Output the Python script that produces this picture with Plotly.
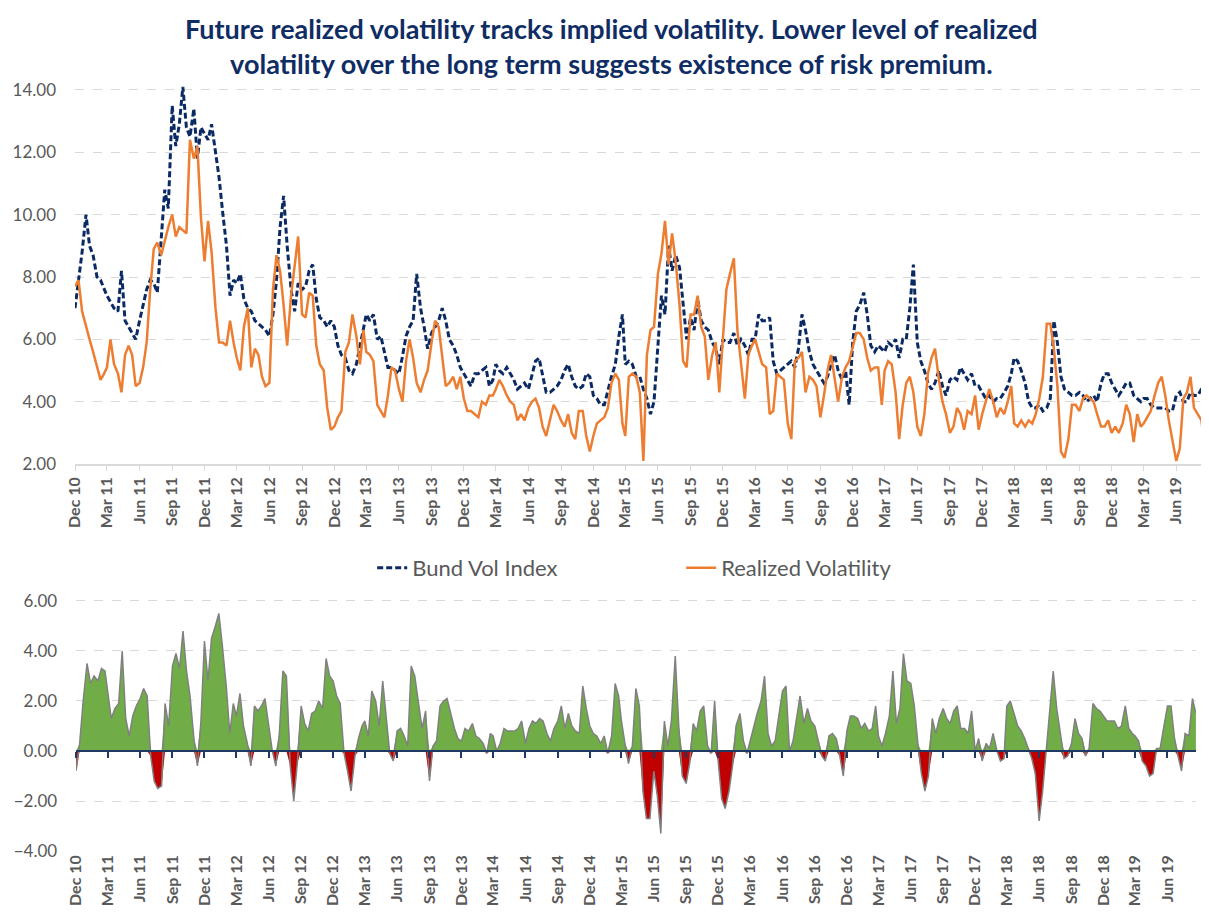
import numpy as np
import pandas as pd
import plotly.graph_objects as go

# ---------------- data (3 readings per month: 1st, 11th, 21st), Dec 2010 .. Aug 2019 ----------------
start_month = pd.Timestamp(2010, 12, 1)
n_months = 105
day_offsets = [0, 10, 20]

bund_vol = [
    7.0, 7.9, 8.8, 10.0, 9.0, 8.7, 8.0, 7.9, 7.6, 7.4, 7.2, 7.0,          # Dec10-Mar11
    6.9, 8.2, 6.6, 6.4, 6.2, 6.0, 6.6, 7.1, 7.6, 7.9, 7.8, 7.5,          # Apr-Jul11
    9.2, 10.8, 10.2, 13.5, 12.2, 12.9, 14.1, 12.8, 12.5, 13.4, 11.8, 12.8,  # Aug-Nov11
    12.6, 12.4, 12.9, 12.0, 11.2, 10.1, 9.0, 7.4, 7.9, 7.8, 8.1, 7.3,    # Dec11-Mar12
    7.0, 6.9, 6.6, 6.5, 6.4, 6.3, 6.1, 6.8, 7.9, 9.6, 10.6, 9.0,         # Apr-Jul12
    7.6, 6.9, 7.8, 7.6, 7.7, 8.2, 8.4, 7.3, 6.7, 6.6, 6.4, 6.6,          # Aug-Nov12
    6.4, 5.8, 5.5, 5.4, 5.0, 4.9, 5.2, 5.8, 6.4, 6.8, 6.6, 6.8,          # Dec12-Mar13
    6.0, 6.1, 5.6, 5.1, 5.1, 5.0, 4.9, 5.45, 6.1, 6.4, 6.6, 8.1,         # Apr-Jul13
    7.0, 6.4, 5.7, 6.2, 6.4, 6.6, 7.0, 6.6, 6.0, 5.8, 5.5, 5.1,          # Aug-Nov13
    4.9, 4.7, 4.5, 4.9, 4.9, 5.0, 5.1, 4.5, 4.7, 5.2, 5.0, 4.9,          # Dec13-Mar14
    5.1, 4.9, 4.7, 4.4, 4.5, 4.6, 4.4, 4.9, 5.3, 5.4, 4.8, 4.3,          # Apr-Jul14
    4.3, 4.4, 4.5, 4.7, 5.0, 5.2, 4.8, 4.5, 4.4, 4.5, 4.9, 4.8,          # Aug-Nov14
    4.2, 4.1, 3.9, 3.9, 4.4, 4.8, 5.2, 6.1, 6.8, 5.2, 5.3, 5.2,          # Dec14-Mar15
    4.8, 4.8, 4.4, 4.1, 3.6, 4.0, 5.8, 7.4, 6.8, 9.0, 8.2, 8.7,          # Apr-Jul15
    8.3, 7.2, 6.0, 6.7, 6.3, 7.3, 6.6, 6.4, 6.3, 5.9, 5.7, 5.2,          # Aug-Nov15
    6.0, 5.9, 5.9, 6.2, 5.8, 6.0, 5.8, 5.5, 6.0, 6.0, 6.8, 6.6,          # Dec15-Mar16
    6.6, 6.7, 5.3, 4.9, 5.0, 5.1, 5.2, 5.3, 5.1, 5.7, 6.8, 6.3,          # Apr-Jul16
    5.6, 5.2, 5.0, 4.8, 4.6, 4.8, 5.2, 5.5, 5.0, 4.7, 5.0, 3.9,          # Aug-Nov16
    5.9, 6.9, 7.1, 7.5, 6.8, 5.8, 5.6, 5.8, 5.7, 5.6, 5.9, 5.8,          # Dec16-Mar17
    6.0, 5.4, 6.0, 6.0, 7.0, 8.4, 5.9, 5.3, 5.0, 4.6, 4.4, 4.6,          # Apr-Jul17
    5.0, 4.5, 4.2, 4.7, 4.8, 4.7, 5.1, 4.9, 4.7, 4.9, 4.5, 4.5,          # Aug-Nov17
    4.3, 4.1, 4.2, 4.0, 4.1, 4.1, 4.3, 4.5, 4.9, 5.4, 5.3, 5.0,          # Dec17-Mar18
    4.6, 4.0, 3.8, 3.8, 3.9, 3.7, 3.8, 4.1, 6.6, 5.9, 4.8, 4.4,          # Apr-Jul18
    4.3, 4.2, 4.2, 4.3, 4.2, 4.0, 4.1, 4.2, 4.0, 4.6, 4.9, 4.9,          # Aug-Nov18
    4.6, 4.4, 4.2, 4.4, 4.6, 4.6, 4.2, 4.1, 4.0, 4.1, 4.1, 3.9,          # Dec18-Mar19
    3.8, 3.8, 3.8, 3.8, 3.7, 3.7, 4.2, 4.3, 4.0, 4.0, 4.3, 4.2,          # Apr-Jul19
    4.2, 4.4, 4.6,                                                        # Aug19
]

realized_vol = [
    7.7, 7.9, 6.9, 6.4, 6.0, 5.6, 5.1, 4.7, 4.9, 5.1, 6.0, 5.2,          # Dec10-Mar11
    4.9, 4.3, 5.5, 5.8, 5.5, 4.5, 4.6, 5.1, 5.9, 7.6, 8.9, 9.1,          # Apr-Jul11
    8.7, 9.2, 9.6, 10.0, 9.3, 9.6, 9.5, 9.4, 12.4, 11.8, 12.2, 9.9,      # Aug-Nov11
    8.5, 9.8, 8.8, 7.0, 5.9, 5.9, 5.8, 6.6, 5.9, 5.4, 5.0, 6.4,          # Dec11-Mar12
    7.0, 5.1, 5.7, 5.5, 4.8, 4.5, 4.6, 7.6, 8.7, 8.2, 7.1, 5.8,          # Apr-Jul12
    7.4, 8.4, 9.3, 6.8, 6.7, 7.5, 7.4, 5.8, 5.2, 5.0, 3.8, 3.1,          # Aug-Nov12
    3.2, 3.5, 3.7, 5.6, 5.9, 6.8, 6.1, 5.2, 6.3, 5.6, 5.5, 5.3,          # Dec12-Mar13
    3.9, 3.7, 3.5, 4.2, 5.1, 5.0, 4.4, 4.0, 5.3, 6.0, 5.4, 4.6,          # Apr-Jul13
    4.3, 4.7, 5.0, 5.9, 6.6, 6.4, 5.4, 4.5, 4.6, 4.8, 4.4, 4.8,          # Aug-Nov13
    4.1, 3.7, 3.7, 3.6, 3.5, 4.0, 3.9, 4.2, 4.2, 4.4, 4.7, 4.5,          # Dec13-Mar14
    4.2, 4.0, 3.9, 3.4, 3.6, 3.4, 3.8, 4.0, 4.1, 3.8, 3.2, 2.9,          # Apr-Jul14
    3.4, 3.9, 3.7, 3.4, 3.2, 3.6, 3.0, 2.8, 3.7, 3.7, 2.9, 2.4,          # Aug-Nov14
    2.9, 3.3, 3.4, 3.5, 3.8, 4.6, 4.9, 4.7, 3.3, 2.9, 4.8, 4.9,          # Dec14-Mar15
    4.8, 4.3, 2.1, 5.5, 6.3, 6.4, 8.1, 8.75, 9.8, 8.4, 9.4, 8.5,         # Apr-Jul15
    7.1, 5.3, 5.1, 6.8, 6.8, 7.4, 6.4, 6.1, 4.7, 5.5, 5.9, 4.3,          # Aug-Nov15
    6.0, 7.6, 8.1, 8.6, 6.3, 5.3, 4.1, 5.5, 5.8, 6.0, 5.6, 5.2,          # Dec15-Mar16
    5.1, 3.6, 3.7, 4.9, 4.8, 4.7, 3.3, 2.8, 5.3, 5.4, 5.6, 4.3,          # Apr-Jul16
    4.8, 4.7, 4.5, 3.5, 4.2, 5.0, 5.5, 4.7, 4.0, 4.8, 5.1, 5.3,          # Aug-Nov16
    5.8, 6.2, 6.2, 6.0, 5.4, 5.0, 5.1, 5.1, 3.9, 5.0, 5.3, 5.2,          # Dec16-Mar17
    4.3, 2.8, 3.9, 4.6, 4.8, 4.3, 3.2, 2.9, 3.6, 4.9, 5.4, 5.7,          # Apr-Jul17
    4.7, 4.0, 3.6, 3.0, 3.2, 3.8, 3.6, 3.1, 3.7, 3.6, 4.2, 3.1,          # Aug-Nov17
    3.6, 4.0, 4.4, 4.0, 3.5, 3.8, 3.6, 4.0, 4.5, 3.3, 3.2, 3.4,          # Dec17-Mar18
    3.2, 3.4, 3.3, 3.6, 4.1, 4.8, 6.5, 6.5, 5.7, 4.5, 2.4, 2.2,          # Apr-Jul18
    2.8, 3.9, 3.9, 3.7, 4.1, 4.2, 4.1, 4.0, 3.6, 3.2, 3.2, 3.4,          # Aug-Nov18
    3.0, 3.2, 3.0, 3.3, 3.9, 3.6, 2.7, 3.6, 3.2, 3.3, 3.5, 3.7,          # Dec18-Mar19
    4.2, 4.6, 4.8, 4.2, 3.4, 2.8, 2.1, 2.5, 4.1, 4.3, 4.8, 3.8,          # Apr-Jul19
    3.6, 3.4, 2.4,                                                        # Aug19
]

vol_spread = [
    -0.8, 0.3, 2.0, 3.5, 2.7, 3.0, 2.8, 3.3, 3.2, 2.4, 1.3, 1.7,         # Dec10-Mar11
    1.9, 4.0, 1.3, 0.6, 1.4, 1.8, 2.1, 2.5, 2.2, -0.2, -1.2, -1.5,       # Apr-Jul11
    -1.4, 1.9, 1.0, 3.4, 3.9, 3.3, 4.8, 3.2, 2.2, 0.5, -0.6, 1.2,        # Aug-Nov11
    4.4, 2.8, 4.5, 5.0, 5.5, 4.2, 2.6, 0.7, 1.9, 1.4, 2.3, 1.0,          # Dec11-Mar12
    0.3, -0.6, 1.8, 1.6, 1.8, 2.1, 1.0, 0.0, -0.6, 0.7, 3.2, 3.0,        # Apr-Jul12
    -0.6, -2.0, -0.5, 1.8, 1.1, 0.8, 1.5, 1.6, 2.0, 1.7, 3.7, 3.0,       # Aug-Nov12
    2.8, 2.2, 1.9, -0.1, -0.8, -1.6, -0.2, 0.5, 1.0, 1.2, 0.6, 2.4,      # Dec12-Mar13
    2.0, 1.0, 2.8, 1.3, -0.1, -0.4, 0.8, 0.9, 0.6, 0.2, 3.4, 3.0,        # Apr-Jul13
    1.9, 0.9, 1.6, -1.2, 0.2, 0.4, 1.8, 2.0, 2.1, 1.5, 0.9, 0.5,         # Aug-Nov13
    0.4, 0.9, 0.8, 1.1, 0.6, 0.5, 0.3, -0.1, 0.7, 0.6, 0.0, 0.3,         # Dec13-Mar14
    0.9, 0.8, 0.8, 0.8, 0.9, 1.2, 0.3, 0.9, 1.2, 1.1, 1.3, 1.2,          # Apr-Jul14
    0.7, 0.4, 0.9, 1.2, 1.8, 0.9, 1.5, 1.0, 0.8, 0.7, 2.6, 1.7,          # Aug-Nov14
    1.0, 0.7, 0.6, 0.3, 0.6, -0.1, 0.6, 2.7, 2.2, 1.2, 0.3, -0.5,        # Dec14-Mar15
    0.2, 2.5, 1.8, -1.6, -2.7, -2.7, -0.8, -1.8, -3.3, 1.2, 0.2, 1.2,    # Apr-Jul15
    3.8, 1.0, -1.0, -1.3, -0.5, 1.1, 0.8, 1.6, 1.8, 0.2, -0.1, 2.0,      # Aug-Nov15
    -0.4, -1.9, -2.3, -1.6, -0.6, 1.0, 1.5, 0.4, -0.1, 0.4, 1.0, 1.5,    # Dec15-Mar16
    2.0, 3.0, 0.7, 0.2, 0.4, 1.3, 2.4, 2.6, 0.0, 0.4, 1.3, 2.2,          # Apr-Jul16
    1.1, 1.7, 1.2, 1.0, 0.4, -0.2, -0.4, 0.6, 0.7, 0.5, -0.2, -1.0,      # Aug-Nov16
    0.8, 1.4, 1.4, 1.3, 0.9, 1.1, 0.8, 0.9, 1.8, 0.6, 0.2, 0.7,          # Dec16-Mar17
    1.4, 3.2, 1.1, 1.7, 3.9, 2.8, 2.7, 1.8, 0.3, -0.9, -1.6, -1.0,       # Apr-Jul17
    1.3, 0.7, 1.3, 1.7, 1.3, 1.1, 1.6, 1.8, 0.9, 0.9, 0.7, 1.6,          # Aug-Nov17
    0.0, 0.5, -0.4, 0.3, 0.1, 0.7, 0.0, -0.4, -0.3, 1.8, 2.0, 1.5,       # Dec17-Mar18
    1.0, 0.8, 0.5, 0.1, -0.3, -0.9, -2.8, -1.6, 0.0, 1.6, 3.2, 1.7,      # Apr-Jul18
    0.6, -0.3, -0.2, 0.3, 1.3, 0.7, 0.5, -0.2, 0.1, 1.9, 1.7, 1.6,       # Aug-Nov18
    1.4, 1.2, 1.2, 1.2, 0.9, 1.0, 1.8, 0.9, 0.7, 0.6, 0.4, -0.4,         # Dec18-Mar19
    -0.6, -1.0, -0.9, 0.1, 0.1, 1.0, 1.8, 1.8, 0.5, -0.2, -0.8, 0.7,     # Apr-Jul19
    0.6, 2.1, 1.5,                                                        # Aug19
]

dates = [start_month + pd.DateOffset(months=m) + pd.Timedelta(days=d)
         for m in range(n_months) for d in day_offsets]

tick_dates = [start_month + pd.DateOffset(months=3 * q) for q in range(35)]
tick_text = [d.strftime("%b %y") for d in tick_dates]

title_text = ("<b>Future realized volatility tracks implied volatility. Lower level of realized<br>"
              "volatility over the long term suggests existence of risk premium.</b>")

# ---------------- figure ----------------
def xs(series):
    return dates[:len(series)]

spread = np.array(vol_spread, dtype=float)
spread_pos = np.clip(spread, 0, None)
spread_neg = np.clip(spread, None, 0)

NAVY = "#0b2a63"
ORANGE = "#ED7D31"
GREEN = "#70AD47"
RED = "#C00000"
GRAY_LINE = "#808080"
GRID = "#d9d9d9"
TXT = "#595959"
FONT = "Lato"

# page has an 8px body margin, so the figure is drawn 8px in from the window edges
W, H = 1201, 913
ML, MR, MT, MB = 67, 4, 77, 70
plot_w, plot_h = W - ML - MR, H - MT - MB

fig = go.Figure()

fig.add_trace(go.Scatter(x=xs(bund_vol), y=bund_vol, name="Bund Vol Index", mode="lines",
                         line=dict(color=NAVY, width=3, dash="6px,3px"),
                         xaxis="x", yaxis="y", legendrank=1))
fig.add_trace(go.Scatter(x=xs(realized_vol), y=realized_vol, name="Realized Volatility", mode="lines",
                         line=dict(color=ORANGE, width=2.5),
                         xaxis="x", yaxis="y", legendrank=2))

fig.add_trace(go.Scatter(x=xs(vol_spread), y=spread_pos, mode="lines", fill="tozeroy",
                         fillcolor=GREEN, line=dict(width=0, color=GREEN),
                         showlegend=False, xaxis="x2", yaxis="y2", hoverinfo="skip"))
fig.add_trace(go.Scatter(x=xs(vol_spread), y=spread_neg, mode="lines", fill="tozeroy",
                         fillcolor=RED, line=dict(width=0, color=RED),
                         showlegend=False, xaxis="x2", yaxis="y2", hoverinfo="skip"))
fig.add_trace(go.Scatter(x=xs(vol_spread), y=vol_spread, mode="lines",
                         line=dict(color=GRAY_LINE, width=1.5),
                         showlegend=False, xaxis="x3", yaxis="y2"))

x_range = ["2010-12-01", "2019-08-21"]

# geometry (paper fractions)
top_dom = [0.5052, 1.0]
bot_dom = [0.0, 0.3303]
bot_range = [-4, 6.12]
zero_pos = bot_dom[0] + (0 - bot_range[0]) / (bot_range[1] - bot_range[0]) * (bot_dom[1] - bot_dom[0])

tickfont_x = dict(family=FONT, size=16, color=TXT, weight="bold")
tickfont_y = dict(family=FONT, size=17, color=TXT)

fig.add_annotation(
    text=title_text, showarrow=False, align="center",
    xref="paper", yref="paper",
    x=(603 - ML) / plot_w, xanchor="center",
    y=1 + (MT - 38) / plot_h, yanchor="middle",
    font=dict(family=FONT, size=27, color="#0f2d64"),
)

fig.update_layout(
    width=W, height=H,
    margin=dict(l=ML, r=MR, t=MT, b=MB),
    paper_bgcolor="white", plot_bgcolor="white",
    showlegend=True,
    legend=dict(orientation="h", x=0.263, xanchor="left", y=0.3695, yanchor="middle",
                font=dict(family=FONT, size=22, color=TXT),
                entrywidth=264, entrywidthmode="pixels",
                bgcolor="rgba(0,0,0,0)"),
    xaxis=dict(domain=[0, 1], anchor="y", type="date", range=x_range,
               tickmode="array", tickvals=tick_dates, ticktext=tick_text, tickangle=-90,
               tickfont=tickfont_x, showgrid=False, zeroline=False,
               showline=True, linecolor=GRID, linewidth=1.5,
               ticks="outside", tickcolor=GRID, ticklen=5),
    yaxis=dict(domain=top_dom, anchor="x", range=[2, 14.16],
               tickmode="array", tickvals=[2, 4, 6, 8, 10, 12, 14], tickformat=".2f",
               tickfont=tickfont_y, showgrid=True, gridcolor=GRID, griddash="dash", gridwidth=1,
               zeroline=False, showline=False, ticks="", ticklabelstandoff=18),
    xaxis2=dict(domain=[0.001, 0.992], anchor="y2", type="date", range=x_range,
                tickmode="array", tickvals=tick_dates, ticktext=tick_text, tickangle=-90,
                tickfont=tickfont_x, showgrid=False, zeroline=False, showline=False, ticks=""),
    yaxis2=dict(domain=bot_dom, anchor="x2", range=bot_range,
                tickmode="array", tickvals=[-4, -2, 0, 2, 4, 6], tickformat=".2f",
                tickfont=tickfont_y, showgrid=True, gridcolor=GRID, griddash="dash", gridwidth=1,
                zeroline=False, showline=False, ticks="", ticklabelstandoff=18),
    xaxis3=dict(overlaying="x2", anchor="free", position=zero_pos, type="date", range=x_range,
                tickmode="array", tickvals=tick_dates, showticklabels=False,
                showgrid=False, zeroline=False, showline=True, linecolor="#1f3864", linewidth=2,
                ticks="outside", tickcolor="#1f3864", ticklen=6, tickwidth=2),
)

fig.write_html("out.html")
